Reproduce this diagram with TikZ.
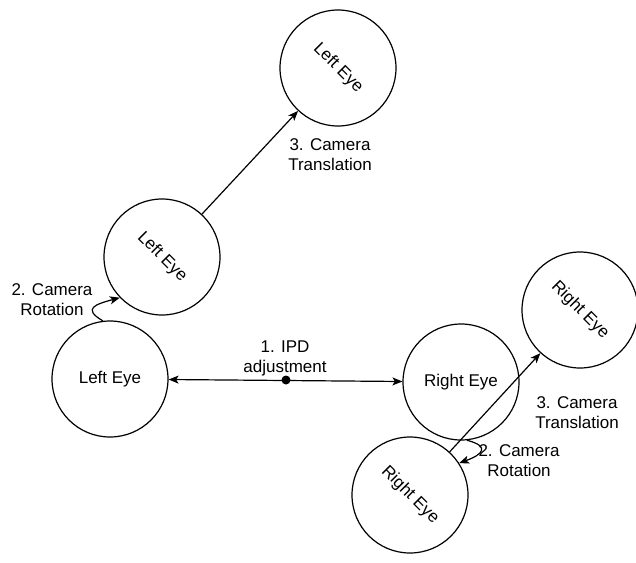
\documentclass[tikz,border=0pt]{standalone}
\usepackage{fontspec}
\setmainfont{Liberation Sans}
\usepackage{graphicx}
\usetikzlibrary{arrows.meta}
\begin{document}
\begin{tikzpicture}[x=1pt,y=-1pt,
  eye/.style={circle, draw, line width=1.2pt, minimum size=116pt, inner sep=0pt,
              font=\fontsize{17}{20}\selectfont},
  lbl/.style={align=center, font=\fontsize{17}{20}\selectfont, inner sep=0pt},
  tip/.style={Stealth[length=10pt,width=8pt,inset=2.5pt]},
  conn/.style={line width=1.2pt, -{Stealth[length=10pt,width=8pt,inset=2.5pt]}},
  every node/.style={text=black}]
\useasboundingbox (0,0) rectangle (636,562);

% left eye: start, rotated, translated
\node[eye] (lb) at (110,379) {Left Eye};
\node[eye] (lm) at (162,257) {\rotatebox{-45}{Left Eye}};
\node[eye] (lt) at (338,68)  {\rotatebox{-45}{Left Eye}};

% right eye: start, rotated, translated
\node[eye] (rb) at (461,382) {Right Eye};
\node[eye] (rr) at (410,495) {\rotatebox{-45}{Right Eye}};
\node[eye] (rt) at (580,310) {\rotatebox{-45}{Right Eye}};

% 1. IPD adjustment
\draw[line width=1.2pt, {Stealth[length=10pt,width=8pt,inset=2.5pt]}-{Stealth[length=10pt,width=8pt,inset=2.5pt]}] (lb) -- (rb);
\node[circle, fill=black, inner sep=0pt, minimum size=9pt] (ipd) at (286,380) {};
\node[lbl] (ipdl) at (285,358) {1. IPD\\adjustment};

% 2. camera rotation
\draw[conn] (lb.97) to[out=150, in=195, looseness=2.2] (lm.224);
\node[lbl] (rotl) at (52,300) {2. Camera\\Rotation};
\draw[conn] (rb.276) to[out=-15, in=20, looseness=2.6] (rr.33);
\node[lbl] (rotr) at (519,461) {2. Camera\\Rotation};

% 3. camera translation
\draw[conn] (lm) -- (lt);
\node[lbl] (trl) at (330,155) {3. Camera\\Translation};
\draw[conn] (rr) -- (rt);
\node[lbl] (trr) at (577,413) {3. Camera\\Translation};
\end{tikzpicture}
\end{document}
